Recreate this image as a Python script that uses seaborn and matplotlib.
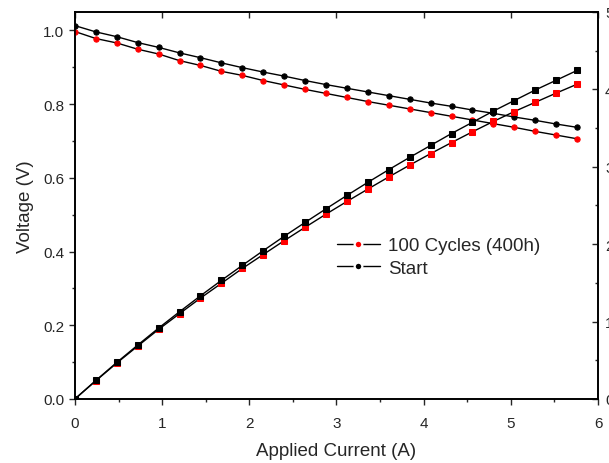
import pandas as pd
import matplotlib
matplotlib.use('Agg')
import matplotlib.pyplot as plt
from matplotlib.lines import Line2D
from matplotlib.ticker import MultipleLocator
import seaborn as sns

# applied current steps (A)
current = [0.00, 0.24, 0.48, 0.72, 0.96, 1.20, 1.44, 1.68, 1.92, 2.16, 2.40, 2.64, 2.88,
           3.12, 3.36, 3.60, 3.84, 4.08, 4.32, 4.56, 4.80, 5.04, 5.28, 5.52, 5.76]

# cell voltage (V)
volt_start = [1.013, 0.996, 0.983, 0.967, 0.954, 0.939, 0.926, 0.912, 0.899, 0.887, 0.876, 0.864, 0.853,
              0.843, 0.833, 0.823, 0.813, 0.803, 0.794, 0.784, 0.775, 0.765, 0.756, 0.746, 0.737]
volt_100 = [0.997, 0.978, 0.966, 0.949, 0.936, 0.918, 0.905, 0.889, 0.878, 0.864, 0.852, 0.840, 0.829,
            0.818, 0.807, 0.797, 0.787, 0.777, 0.767, 0.757, 0.747, 0.737, 0.726, 0.716, 0.706]

# power (W), right axis
power_start = [0.0, 0.239, 0.472, 0.696, 0.916, 1.127, 1.333, 1.532, 1.726, 1.916, 2.102, 2.281, 2.457,
               2.630, 2.799, 2.963, 3.122, 3.276, 3.430, 3.575, 3.720, 3.856, 3.992, 4.118, 4.245]
power_100 = [0.0, 0.235, 0.464, 0.683, 0.899, 1.102, 1.303, 1.494, 1.686, 1.866, 2.045, 2.218, 2.388,
             2.552, 2.712, 2.869, 3.022, 3.170, 3.313, 3.452, 3.586, 3.714, 3.833, 3.952, 4.067]

labels = ['100 Cycles (400h)', 'Start']

df = pd.DataFrame({
    'current': current,
    'v_start': volt_start,
    'v_100': volt_100,
    'p_start': power_start,
    'p_100': power_100,
})

sns.set_style('ticks')
plt.rcParams['font.family'] = ['Liberation Sans', 'DejaVu Sans']

fig = plt.figure(figsize=(6.09, 4.64), dpi=100)
ax = fig.add_axes([0.123, 0.138, 0.859, 0.834])
ax2 = ax.twinx()

# voltage curves (circles)
sns.lineplot(data=df, x='current', y='v_100', ax=ax, color='black', lw=1, marker='o', ms=3.8,
             markerfacecolor='red', markeredgecolor='red', zorder=3)
sns.lineplot(data=df, x='current', y='v_start', ax=ax, color='black', lw=1, marker='o', ms=3.8,
             markerfacecolor='black', markeredgecolor='black', zorder=3)

# power curves (squares)
sns.lineplot(data=df, x='current', y='p_100', ax=ax2, color='black', lw=1, marker='s', ms=4.2,
             markerfacecolor='red', markeredgecolor='red', zorder=3)
sns.lineplot(data=df, x='current', y='p_start', ax=ax2, color='black', lw=1, marker='s', ms=4.2,
             markerfacecolor='black', markeredgecolor='black', zorder=4)

ax.set_xlim(0, 6)
ax.set_ylim(0, 1.05)
ax2.set_ylim(0, 5.0)

ax.set_xlabel('Applied Current (A)', fontsize=13.5, labelpad=9)
ax.set_ylabel('Voltage (V)', fontsize=13.5, labelpad=7)
ax2.set_ylabel('')

ax.xaxis.set_major_locator(MultipleLocator(1))
ax.xaxis.set_minor_locator(MultipleLocator(0.5))
ax.yaxis.set_major_locator(MultipleLocator(0.2))
ax.yaxis.set_minor_locator(MultipleLocator(0.1))
ax.yaxis.set_major_formatter(matplotlib.ticker.FormatStrFormatter('%.1f'))
ax2.yaxis.set_major_locator(MultipleLocator(1))
ax2.yaxis.set_minor_locator(MultipleLocator(0.5))

ax.tick_params(axis='both', which='major', direction='out', length=4, width=1, labelsize=11)
ax.tick_params(axis='both', which='minor', direction='out', length=2.5, width=1)
ax.tick_params(axis='x', which='major', pad=8)
ax.tick_params(axis='x', which='minor', top=False)
ax.tick_params(axis='x', which='major', top=True)
ax2.tick_params(axis='y', which='major', direction='in', length=4, width=1, labelsize=11, pad=5)
ax2.tick_params(axis='y', which='minor', direction='in', length=2.5, width=1)

# top ticks point inward
for t in ax.xaxis.get_major_ticks():
    t.tick2line.set_marker(matplotlib.lines.TICKDOWN)

for a in (ax, ax2):
    for s in a.spines.values():
        s.set_linewidth(1.2)
        s.set_color('black')

handles = [
    Line2D([], [], color='black', lw=1, marker='o', ms=5.5, markerfacecolor='red',
           markeredgecolor='white', markeredgewidth=1.6),
    Line2D([], [], color='black', lw=1, marker='o', ms=5.5, markerfacecolor='black',
           markeredgecolor='white', markeredgewidth=1.6),
]
ax.legend(handles, labels, loc='upper left', bbox_to_anchor=(0.468, 0.462), frameon=False,
          fontsize=13.5, handlelength=2.3, handletextpad=0.45, labelspacing=0.3)

fig.savefig('out.png', dpi=100)
